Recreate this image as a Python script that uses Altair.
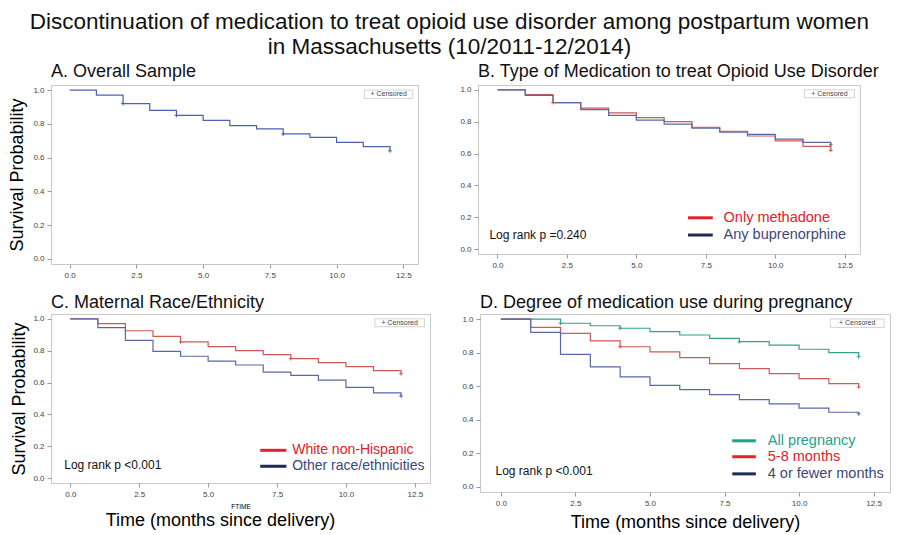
import altair as alt
import pandas as pd

FONT = "Liberation Sans"

# ---------------- data ----------------
months = [0, 1, 2, 3, 4, 5, 6, 7, 8, 9, 10, 11, 12]
x_ticks = [0, 2.5, 5, 7.5, 10, 12.5]
y_ticks = [0, 0.2, 0.4, 0.6, 0.8, 1.0]

# A. Overall sample
overall_surv = [1.0, 0.97, 0.92, 0.88, 0.85, 0.82, 0.79, 0.77, 0.74, 0.72, 0.69, 0.665, 0.64]
overall_cens_t = [2, 4, 8, 12]
overall_cens_s = [0.92, 0.85, 0.74, 0.64]

# B. Type of medication
methadone_surv = [1.0, 0.97, 0.92, 0.885, 0.855, 0.825, 0.80, 0.765, 0.74, 0.71, 0.68, 0.645, 0.62]
methadone_cens_t = [2, 12]
methadone_cens_s = [0.92, 0.62]
bup_surv = [1.0, 0.965, 0.92, 0.875, 0.84, 0.81, 0.785, 0.76, 0.735, 0.72, 0.69, 0.67, 0.655]
bup_cens_t = [12]
bup_cens_s = [0.655]

# C. Maternal race/ethnicity
white_surv = [1.0, 0.97, 0.925, 0.89, 0.855, 0.825, 0.80, 0.775, 0.75, 0.725, 0.70, 0.675, 0.655]
white_cens_t = [4, 8, 12]
white_cens_s = [0.855, 0.75, 0.655]
other_surv = [1.0, 0.945, 0.865, 0.795, 0.765, 0.735, 0.71, 0.665, 0.645, 0.615, 0.57, 0.535, 0.515]
other_cens_t = [12]
other_cens_s = [0.515]

# D. Degree of medication use during pregnancy
allpreg_surv = [1.0, 1.0, 0.975, 0.96, 0.945, 0.925, 0.905, 0.885, 0.865, 0.845, 0.82, 0.80, 0.775]
allpreg_cens_t = [2, 4, 8, 12]
allpreg_cens_s = [0.975, 0.945, 0.865, 0.775]
m58_surv = [1.0, 0.95, 0.915, 0.87, 0.835, 0.805, 0.77, 0.735, 0.705, 0.675, 0.645, 0.615, 0.595]
m58_cens_t = [4, 12]
m58_cens_s = [0.835, 0.595]
m4_surv = [1.0, 0.92, 0.79, 0.715, 0.655, 0.605, 0.58, 0.55, 0.52, 0.495, 0.47, 0.445, 0.435]
m4_cens_t = [12]
m4_cens_s = [0.435]

# ---------------- styling / layout constants ----------------
X_DOM = [-0.7, 13.05]
Y_DOM = [-0.03, 1.03]
PLUS = "M-1,0L1,0M0,-1L0,1"
CBOX_T = [11.05, 12.85]
CBOX_S = [0.95, 1.0]


def panel(series, width, height, title, ytitle=None, xtitle=None, xtitle_size=18,
          xtitle_pad=4, legend=False, legend_t=None, legend_s=None, legend_size=14.5,
          logrank=None, logrank_pos=None, title_offset=6, ytitle_pad=10):
    xs = alt.Scale(domain=X_DOM, nice=False, zero=False)
    ys = alt.Scale(domain=Y_DOM, nice=False, zero=False)
    common = dict(format=".1f", labelFontSize=8, labelFont=FONT,
                  labelColor="#444", tickColor="#999", tickSize=4, domain=False,
                  grid=False, labelPadding=3, titleFontWeight="normal", titleFont=FONT,
                  titleColor="#000")
    xaxis = alt.Axis(values=x_ticks, title=xtitle, titleFontSize=xtitle_size,
                     titlePadding=xtitle_pad, **common)
    yaxis = alt.Axis(values=y_ticks, title=ytitle, titleFontSize=18,
                     titlePadding=ytitle_pad, **common)
    X = alt.X("t:Q", scale=xs, axis=xaxis)
    Y = alt.Y("s:Q", scale=ys, axis=yaxis)

    layers = []
    for s in series:
        curve = pd.DataFrame({"t": months, "s": s["surv"]})
        layers.append(alt.Chart(curve).mark_line(
            interpolate="step-after", strokeWidth=1.2, color=s["line"]).encode(x=X, y=Y))
    for s in series:
        cens = pd.DataFrame({"t": s["cens_t"], "s": s["cens_s"]})
        layers.append(alt.Chart(cens).mark_point(
            shape=PLUS, size=14, strokeWidth=1, opacity=1, color=s["line"]).encode(x=X, y=Y))

    box = pd.DataFrame({"t": [CBOX_T[0]], "t2": [CBOX_T[1]], "s": [CBOX_S[0]], "s2": [CBOX_S[1]]})
    layers.append(alt.Chart(box).mark_rect(fill="white", stroke="#c8c8c8", strokeWidth=0.8).encode(
        x=X, x2="t2:Q", y=Y, y2="s2:Q"))
    boxlab = pd.DataFrame({"t": [sum(CBOX_T) / 2], "s": [sum(CBOX_S) / 2], "lab": ["+ Censored"]})
    layers.append(alt.Chart(boxlab).mark_text(fontSize=7, font=FONT, color="#444").encode(
        x=X, y=Y, text="lab:N"))

    if legend:
        for s, yv in zip(series, legend_s):
            seg = pd.DataFrame({"t": [legend_t[0]], "t2": [legend_t[1]], "s": [yv]})
            layers.append(alt.Chart(seg).mark_rule(strokeWidth=3, color=s["legline"]).encode(
                x=X, x2="t2:Q", y=Y))
            lab = pd.DataFrame({"t": [legend_t[2]], "s": [yv], "lab": [s["name"]]})
            layers.append(alt.Chart(lab).mark_text(
                align="left", baseline="middle", fontSize=legend_size, font=FONT,
                color=s["legtext"]).encode(x=X, y=Y, text="lab:N"))
    if logrank:
        lr = pd.DataFrame({"t": [logrank_pos[0]], "s": [logrank_pos[1]], "lab": [logrank]})
        layers.append(alt.Chart(lr).mark_text(align="left", baseline="middle", fontSize=12,
                                              font=FONT, color="#111").encode(
            x=X, y=Y, text="lab:N"))
    return alt.layer(*layers).properties(
        width=width, height=height,
        title=alt.TitleParams(title, anchor="start", frame="group", fontSize=18, font=FONT,
                              fontWeight="normal", color="#111", offset=title_offset))


RED_LINE, BLUE_LINE, TEAL_LINE = "#cf5a55", "#5a68aa", "#35a08c"
RED_LEG, NAVY_LEG, TEAL_LEG = "#e8202a", "#1c2a55", "#17a389"
RED_TXT, NAVY_TXT, TEAL_TXT = "#e0202a", "#3b4878", "#22a38a"

pA = panel([{"name": "Overall", "surv": overall_surv, "cens_t": overall_cens_t,
             "cens_s": overall_cens_s, "line": "#4a62b0"}],
           367, 179, "A. Overall Sample", ytitle="Survival Probability", ytitle_pad=6,
           title_offset=4)

pB = panel([{"name": "Only methadone", "surv": methadone_surv, "cens_t": methadone_cens_t,
             "cens_s": methadone_cens_s, "line": RED_LINE, "legline": RED_LEG, "legtext": RED_TXT},
            {"name": "Any buprenorphine", "surv": bup_surv, "cens_t": bup_cens_t,
             "cens_s": bup_cens_s, "line": BLUE_LINE, "legline": NAVY_LEG, "legtext": NAVY_TXT}],
           382, 169, "B. Type of Medication to treat Opioid Use Disorder",
           legend=True, legend_t=[6.86, 7.75, 8.14], legend_s=[0.197, 0.089],
           logrank="Log rank p =0.240", logrank_pos=[-0.29, 0.089], title_offset=4)

pC = panel([{"name": "White non-Hispanic", "surv": white_surv, "cens_t": white_cens_t,
             "cens_s": white_cens_s, "line": RED_LINE, "legline": RED_LEG, "legtext": RED_TXT},
            {"name": "Other race/ethnicities", "surv": other_surv, "cens_t": other_cens_t,
             "cens_s": other_cens_s, "line": BLUE_LINE, "legline": NAVY_LEG, "legtext": NAVY_TXT}],
           379, 169, "C. Maternal Race/Ethnicity", ytitle="Survival Probability",
           xtitle="FTIME", xtitle_size=6.5, xtitle_pad=5,
           legend=True, legend_t=[6.89, 7.84, 8.05], legend_s=[0.175, 0.075], legend_size=14,
           logrank="Log rank p <0.001", logrank_pos=[-0.22, 0.08], title_offset=2, ytitle_pad=4)

pD = panel([{"name": "All pregnancy", "surv": allpreg_surv, "cens_t": allpreg_cens_t,
             "cens_s": allpreg_cens_s, "line": TEAL_LINE, "legline": TEAL_LEG, "legtext": TEAL_TXT},
            {"name": "5-8 months", "surv": m58_surv, "cens_t": m58_cens_t,
             "cens_s": m58_cens_s, "line": RED_LINE, "legline": RED_LEG, "legtext": RED_TXT},
            {"name": "4 or fewer months", "surv": m4_surv, "cens_t": m4_cens_t,
             "cens_s": m4_cens_s, "line": BLUE_LINE, "legline": NAVY_LEG, "legtext": NAVY_TXT}],
           410, 178, "D. Degree of medication use during pregnancy",
           xtitle="Time (months since delivery)", xtitle_pad=6,
           legend=True, legend_t=[7.76, 8.55, 8.95], legend_s=[0.275, 0.18, 0.078],
           logrank="Log rank p <0.001", logrank_pos=[-0.18, 0.096], title_offset=2)

c_wrap = alt.vconcat(pC).properties(
    title=alt.TitleParams("Time (months since delivery)", orient="bottom", anchor="middle",
                          fontSize=18, font=FONT, fontWeight="normal", color="#000", offset=2))

row1 = alt.hconcat(pA, pB, spacing=40)
row2 = alt.hconcat(c_wrap, pD, spacing=30)

chart = alt.vconcat(row1, row2, spacing=13).properties(
    title=alt.TitleParams(
        ["Discontinuation of medication to treat opioid use disorder among postpartum women",
         "in Massachusetts (10/2011-12/2014)"],
        anchor="middle", fontSize=22.5, font=FONT, fontWeight="normal", color="#111",
        lineHeight=25, offset=4),
    padding={"left": 0, "top": 3, "right": 0, "bottom": 0},
).configure_view(stroke="#c8c8c8", strokeWidth=1)

chart.save("out.html", embed_options={"renderer": "svg", "actions": False})
